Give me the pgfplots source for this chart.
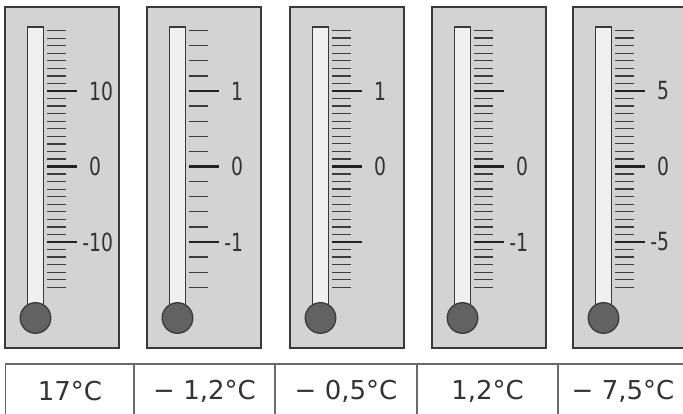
\documentclass[border=0pt]{standalone}
\usepackage{pgfplots}
\pgfplotsset{compat=1.18}
\usepackage{fontspec}
\setmainfont{DejaVu Sans}
\definecolor{panelbg}{HTML}{D3D3D3}
\definecolor{panelbd}{HTML}{3A3A3A}
\definecolor{tubefill}{HTML}{F0F0F0}
\definecolor{bulbfill}{HTML}{626262}
\definecolor{tickdark}{HTML}{222222}
\definecolor{tickgray}{HTML}{3C3C3C}
\definecolor{txt}{HTML}{333333}
\definecolor{tablebd}{HTML}{6A6A6A}
\newcommand\lbl[1]{\scalebox{0.75}[1]{#1}}
\newcommand\nlbl[1]{\scalebox{0.75}[1]{\llap{-}#1}}
\pgfplotsset{therm/.style={
  scale only axis, width=30pt, height=341pt, xmin=0, xmax=1,
  anchor=south west,
  xtick=\empty, ytick pos=left, yticklabel pos=right,
  axis line style={draw=none},
  tick align=inside,
  major tick length=30pt, minor tick length=19pt,
  major tick style={line width=2.6pt, color=tickdark},
  minor tick style={line width=1.3pt, color=tickgray},
  yticklabel style={anchor=west, inner sep=0pt, font=\fontsize{25}{25}\selectfont, text=txt, xshift=12pt},
  clip=false,
}}
\newcommand\thermo[1]{%
  \filldraw[fill=panelbg, draw=panelbd, line width=1.3pt] (#1pt,66pt) rectangle ++(114pt,341pt);
  \filldraw[fill=tubefill, draw=panelbd, line width=1.3pt] ([xshift=22.5pt]#1pt,96pt) rectangle ++(16pt,291pt);
  \filldraw[fill=bulbfill, draw=panelbd, line width=1.3pt] ([xshift=30.5pt]#1pt,96pt) circle[radius=15.3pt];
}
\begin{document}
\begin{tikzpicture}
\clip (0pt,0pt) rectangle (683pt,414pt);
\fill[white] (0pt,0pt) rectangle (683pt,414pt);
\thermo{5}
\thermo{147}
\thermo{290}
\thermo{432}
\thermo{573}

\begin{axis}[therm, at={(47pt,66pt)}, ymin=-24.04, ymax=21.13,
  ytick={-10,0,10}, yticklabels={\nlbl{10},\lbl{0},\lbl{10}},
  minor ytick={-16,-15,...,18}]
\addplot[draw=none] coordinates {(0,0)};
\end{axis}

\begin{axis}[therm, at={(189pt,66pt)}, ymin=-2.404, ymax=2.1126,
  ytick={-1,0,1}, yticklabels={\nlbl{1},\lbl{0},\lbl{1}},
  minor ytick={-1.6,-1.4,-1.2,-0.8,-0.6,-0.4,-0.2,0.2,0.4,0.6,0.8,1.2,1.4,1.6,1.8}]
\addplot[draw=none] coordinates {(0,0)};
\end{axis}

\begin{axis}[therm, at={(332pt,66pt)}, ymin=-2.404, ymax=2.1126,
  ytick={-1,0,1}, yticklabels={,\lbl{0},\lbl{1}},
  minor ytick={-1.6,-1.5,-1.4,-1.3,-1.2,-1.1,-0.9,-0.8,-0.7,-0.6,-0.5,-0.4,-0.3,-0.2,-0.1,0.1,0.2,0.3,0.4,0.5,0.6,0.7,0.8,0.9,1.1,1.2,1.3,1.4,1.5,1.6,1.7,1.8}]
\addplot[draw=none] coordinates {(0,0)};
\end{axis}

\begin{axis}[therm, at={(474pt,66pt)}, ymin=-2.404, ymax=2.1126,
  ytick={-1,0,1}, yticklabels={\nlbl{1},\lbl{0},},
  minor ytick={-1.6,-1.5,-1.4,-1.3,-1.2,-1.1,-0.9,-0.8,-0.7,-0.6,-0.5,-0.4,-0.3,-0.2,-0.1,0.1,0.2,0.3,0.4,0.5,0.6,0.7,0.8,0.9,1.1,1.2,1.3,1.4,1.5,1.6,1.7,1.8}]
\addplot[draw=none] coordinates {(0,0)};
\end{axis}

\begin{axis}[therm, at={(615pt,66pt)}, ymin=-12.02, ymax=10.563,
  ytick={-5,0,5}, yticklabels={\nlbl{5},\lbl{0},\lbl{5}},
  minor ytick={-8,-7.5,-7,-6.5,-6,-5.5,-4.5,-4,-3.5,-3,-2.5,-2,-1.5,-1,-0.5,0.5,1,1.5,2,2.5,3,3.5,4,4.5,5.5,6,6.5,7,7.5,8,8.5,9}]
\addplot[draw=none] coordinates {(0,0)};
\end{axis}

% table
\draw[tablebd, line width=1.3pt] (5.7pt,-5pt) -- (5.7pt,50pt) -- (690pt,50pt) -- (690pt,-5pt);
\foreach \xx in {134,275,417,558} \draw[tablebd, line width=1.3pt] (\xx pt,-5pt) -- (\xx pt,50pt);
\begin{scope}[every node/.style={text=txt, font=\fontsize{26}{26}\selectfont, inner sep=0pt}]
\node at (70pt,23pt) {17°C};
\node at (204.5pt,23pt) {− 1,2°C};
\node at (346pt,23pt) {− 0,5°C};
\node at (487.5pt,23pt) {1,2°C};
\node at (623pt,23pt) {− 7,5°C};
\end{scope}
\end{tikzpicture}
\end{document}
